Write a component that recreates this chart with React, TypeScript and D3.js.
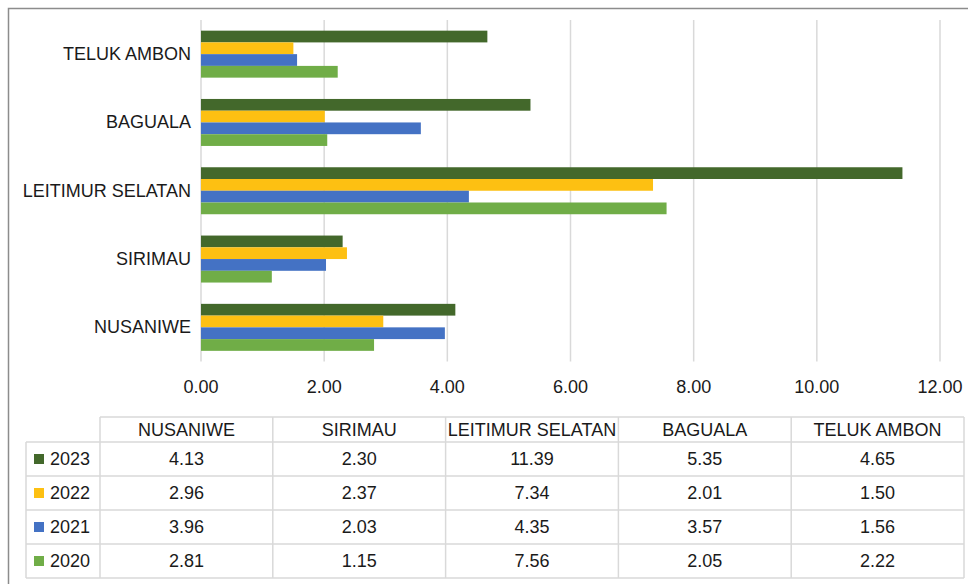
import * as d3 from "d3";

const districts = ["NUSANIWE", "SIRIMAU", "LEITIMUR SELATAN", "BAGUALA", "TELUK AMBON"];
const years = ["2023", "2022", "2021", "2020"];
const values2023 = [4.13, 2.3, 11.39, 5.35, 4.65];
const values2022 = [2.96, 2.37, 7.34, 2.01, 1.5];
const values2021 = [3.96, 2.03, 4.35, 3.57, 1.56];
const values2020 = [2.81, 1.15, 7.56, 2.05, 2.22];
const xTicks = [0, 2, 4, 6, 8, 10, 12];
const colors = ["#43682b", "#fdc012", "#4472c4", "#70ad47"];

const series = [values2023, values2022, values2021, values2020];

const WIDTH = 968;
const HEIGHT = 584;
const PLOT = { left: 201, right: 940, top: 20, bottom: 361.5 };
const TABLE = { left: 26, colStart: 100, colWidth: 172.8, headTop: 417, rowTop: 442, rowHeight: 34 };
const FONT = "'Liberation Sans', Arial, sans-serif";
const GRID = "#d9d9d9";

export default function App() {
  const x = d3.scaleLinear().domain([0, 12]).range([PLOT.left, PLOT.right]);
  // Excel draws the first category at the bottom
  const y = d3
    .scaleBand<string>()
    .domain([...districts].reverse())
    .range([PLOT.top, PLOT.bottom])
    .paddingInner(0.312)
    .paddingOuter(0.156);
  const yInner = d3.scaleBand<string>().domain(years).range([0, y.bandwidth()]).padding(0);
  const fmt = d3.format(".2f");

  const tableRight = TABLE.colStart + TABLE.colWidth * districts.length;
  const tableBottom = TABLE.rowTop + TABLE.rowHeight * years.length;

  return (
    <svg
      width={WIDTH}
      height={HEIGHT}
      style={{ position: "absolute", left: 0, top: 0, background: "#fff" }}
      fontFamily={FONT}
    >
      <rect x={8.5} y={8.5} width={1000} height={1000} fill="#fff" stroke="#8c8c8c" strokeWidth={1.5} />

      {/* gridlines */}
      {xTicks.map((t) => (
        <line key={t} x1={x(t)} x2={x(t)} y1={PLOT.top} y2={PLOT.bottom} stroke={GRID} strokeWidth={1.5} />
      ))}

      {/* bars */}
      {districts.map((d, i) => (
        <g key={d} transform={`translate(0,${y(d)})`}>
          {years.map((yr, j) => (
            <rect
              key={yr}
              x={x(0)}
              y={yInner(yr)}
              width={x(series[j][i]) - x(0)}
              height={yInner.bandwidth()}
              fill={colors[j]}
            />
          ))}
        </g>
      ))}

      {/* category labels */}
      {districts.map((d) => (
        <text
          key={d}
          x={191}
          y={(y(d) ?? 0) + y.bandwidth() / 2}
          textAnchor="end"
          dominantBaseline="central"
          fontSize={18}
          fill="#1a1a1a"
        >
          {d}
        </text>
      ))}

      {/* x tick labels */}
      {xTicks.map((t) => (
        <text key={t} x={x(t)} y={387} textAnchor="middle" dominantBaseline="central" fontSize={18} fill="#1a1a1a">
          {fmt(t)}
        </text>
      ))}

      {/* data table */}
      <g stroke={GRID} strokeWidth={1.5}>
        <line x1={TABLE.colStart} x2={tableRight} y1={TABLE.headTop} y2={TABLE.headTop} />
        {years.map((_, r) => (
          <line
            key={r}
            x1={TABLE.left}
            x2={tableRight}
            y1={TABLE.rowTop + r * TABLE.rowHeight}
            y2={TABLE.rowTop + r * TABLE.rowHeight}
          />
        ))}
        <line x1={TABLE.left} x2={tableRight} y1={tableBottom} y2={tableBottom} />
        <line x1={TABLE.left} x2={TABLE.left} y1={TABLE.rowTop} y2={tableBottom} />
        {districts.map((_, c) => (
          <line
            key={c}
            x1={TABLE.colStart + c * TABLE.colWidth}
            x2={TABLE.colStart + c * TABLE.colWidth}
            y1={TABLE.headTop}
            y2={tableBottom}
          />
        ))}
        <line x1={tableRight} x2={tableRight} y1={TABLE.headTop} y2={tableBottom} />
      </g>

      {districts.map((d, c) => (
        <text
          key={d}
          x={TABLE.colStart + (c + 0.5) * TABLE.colWidth}
          y={(TABLE.headTop + TABLE.rowTop) / 2}
          textAnchor="middle"
          dominantBaseline="central"
          fontSize={18}
          fill="#1a1a1a"
        >
          {d}
        </text>
      ))}

      {years.map((yr, r) => {
        const cy = TABLE.rowTop + (r + 0.5) * TABLE.rowHeight;
        return (
          <g key={yr}>
            <rect x={34} y={cy - 5} width={10} height={10} fill={colors[r]} />
            <text x={50} y={cy} dominantBaseline="central" fontSize={18} fill="#1a1a1a">
              {yr}
            </text>
            {districts.map((d, c) => (
              <text
                key={d}
                x={TABLE.colStart + (c + 0.5) * TABLE.colWidth}
                y={cy}
                textAnchor="middle"
                dominantBaseline="central"
                fontSize={18}
                fill="#1a1a1a"
              >
                {fmt(series[r][c])}
              </text>
            ))}
          </g>
        );
      })}
    </svg>
  );
}
